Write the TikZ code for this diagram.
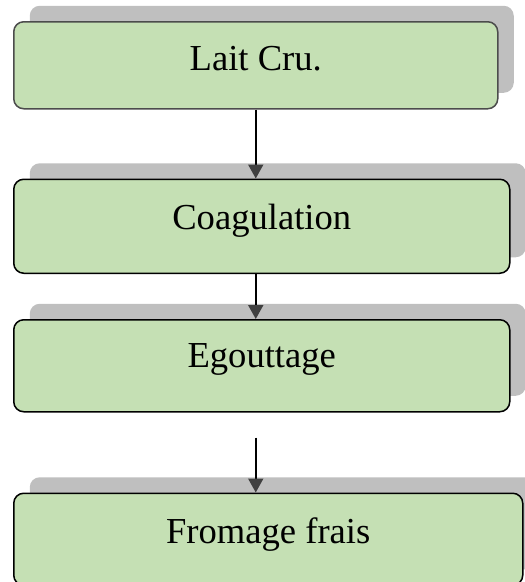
\documentclass[tikz,border=0pt]{standalone}
\usepackage{fontspec}
\setmainfont{Liberation Serif}
\usetikzlibrary{positioning,shadows,arrows.meta}
\definecolor{stepgreen}{HTML}{C5E0B4}
\definecolor{shadowgrey}{HTML}{BFBFBF}
\definecolor{tipgrey}{HTML}{404040}

\begin{document}
\begin{tikzpicture}[x=1pt,y=1pt]

  % Definitions
  \tikzstyle{Stage} = [rectangle, rounded corners=10pt, inner xsep=0pt, inner ysep=0pt, text centered, draw=black, line width=1.5pt, fill=stepgreen, general shadow={fill=shadowgrey, shadow xshift=16pt, shadow yshift=16pt}, font=\fontsize{36.6pt}{44pt}\selectfont]
  \tikzstyle{arrow} = [line width=2pt, -{Triangle[length=14pt, width=15pt, color=tipgrey]}]

  \useasboundingbox (0,0) rectangle (525,-582);

  \node (lait) [Stage, anchor=north west, minimum width=484pt, text height=49pt, text depth=38pt, draw=black!70] at (13,-21) {Lait Cru.};
  \node (coag) [Stage, below=69pt of lait.south west, anchor=north west, minimum width=496pt, text height=50pt, text depth=44pt] {Coagulation};
  \node (egout) [Stage, below=45pt of coag.south west, anchor=north west, minimum width=496pt, text height=48pt, text depth=44pt] {Egouttage};
  \node (from) [Stage, below=80pt of egout.south west, anchor=north west, minimum width=509pt, text height=50pt, text depth=42pt] {Fromage frais};

  \coordinate (gap) at ([yshift=-25pt]egout.south -| lait.south);

  \draw [arrow] (lait.south) -- (lait.south |- coag.north);
  \draw [arrow] (coag.south -| lait.south) -- (lait.south |- egout.north);
  \draw [arrow] (gap) -- (gap |- from.north);

\end{tikzpicture}
\end{document}
